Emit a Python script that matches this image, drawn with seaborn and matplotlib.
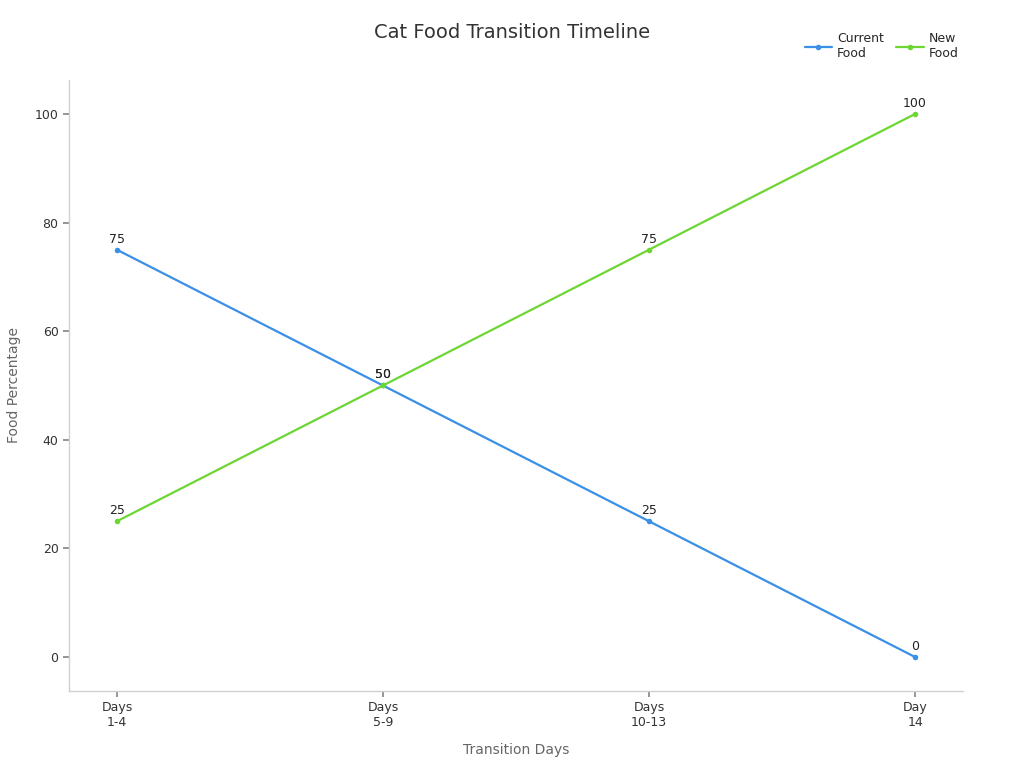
import matplotlib
matplotlib.use("Agg")
import matplotlib.pyplot as plt
import seaborn as sns
import pandas as pd

stages = ["Days\n1-4", "Days\n5-9", "Days\n10-13", "Day\n14"]
current_food = [75, 50, 25, 0]
new_food = [25, 50, 75, 100]
series_names = ["Current\nFood", "New\nFood"]
colors = ["#3a8fe6", "#6dd633"]

df = pd.DataFrame({
    "stage": list(range(len(stages))) * 2,
    "value": current_food + new_food,
    "series": [series_names[0]] * len(stages) + [series_names[1]] * len(stages),
})

sns.set_theme(style="white")
plt.rcParams['font.family'] = ['DejaVu Sans']

fig = plt.figure(figsize=(10.24, 7.68), dpi=100)
ax = fig.add_axes([0.0674, 0.1003, 0.873, 0.7955])

sns.lineplot(data=df, x="stage", y="value", hue="series", palette=colors,
             marker="o", markersize=4, markeredgewidth=0, linewidth=1.6, ax=ax)

for name, vals in zip(series_names, [current_food, new_food]):
    for i, v in enumerate(vals):
        ax.annotate(str(v), (i, v), xytext=(0, 3), textcoords="offset points",
                    ha="center", va="bottom", fontsize=9, color="#222222")

ax.set_xlim(-0.18, 3.18)
ax.set_ylim(-6.25, 106.25)
ax.set_xticks(range(len(stages)))
ax.set_xticklabels(stages, fontsize=9, color="#333333")
ax.set_yticks([0, 20, 40, 60, 80, 100])
ax.tick_params(axis="y", labelsize=9, labelcolor="#333333", left=True, length=4, color="#888888")
ax.tick_params(axis="x", bottom=True, length=4, color="#888888")

for s in ["top", "right"]:
    ax.spines[s].set_visible(False)
for s in ["left", "bottom"]:
    ax.spines[s].set_color("#d0d0d0")
    ax.spines[s].set_linewidth(1)

ax.set_xlabel("Transition Days", fontsize=10, color="#666666", labelpad=10)
ax.set_ylabel("Food Percentage", fontsize=10, color="#666666", labelpad=10)
fig.suptitle("Cat Food Transition Timeline", fontsize=14, color="#333333", x=0.5, y=0.97)

ax.legend(loc="upper right", bbox_to_anchor=(1.008, 1.097), ncol=2, frameon=False,
          fontsize=9, handlelength=2.2, handletextpad=0.4, columnspacing=1.0, title=None)

fig.savefig("out.png", dpi=100)
